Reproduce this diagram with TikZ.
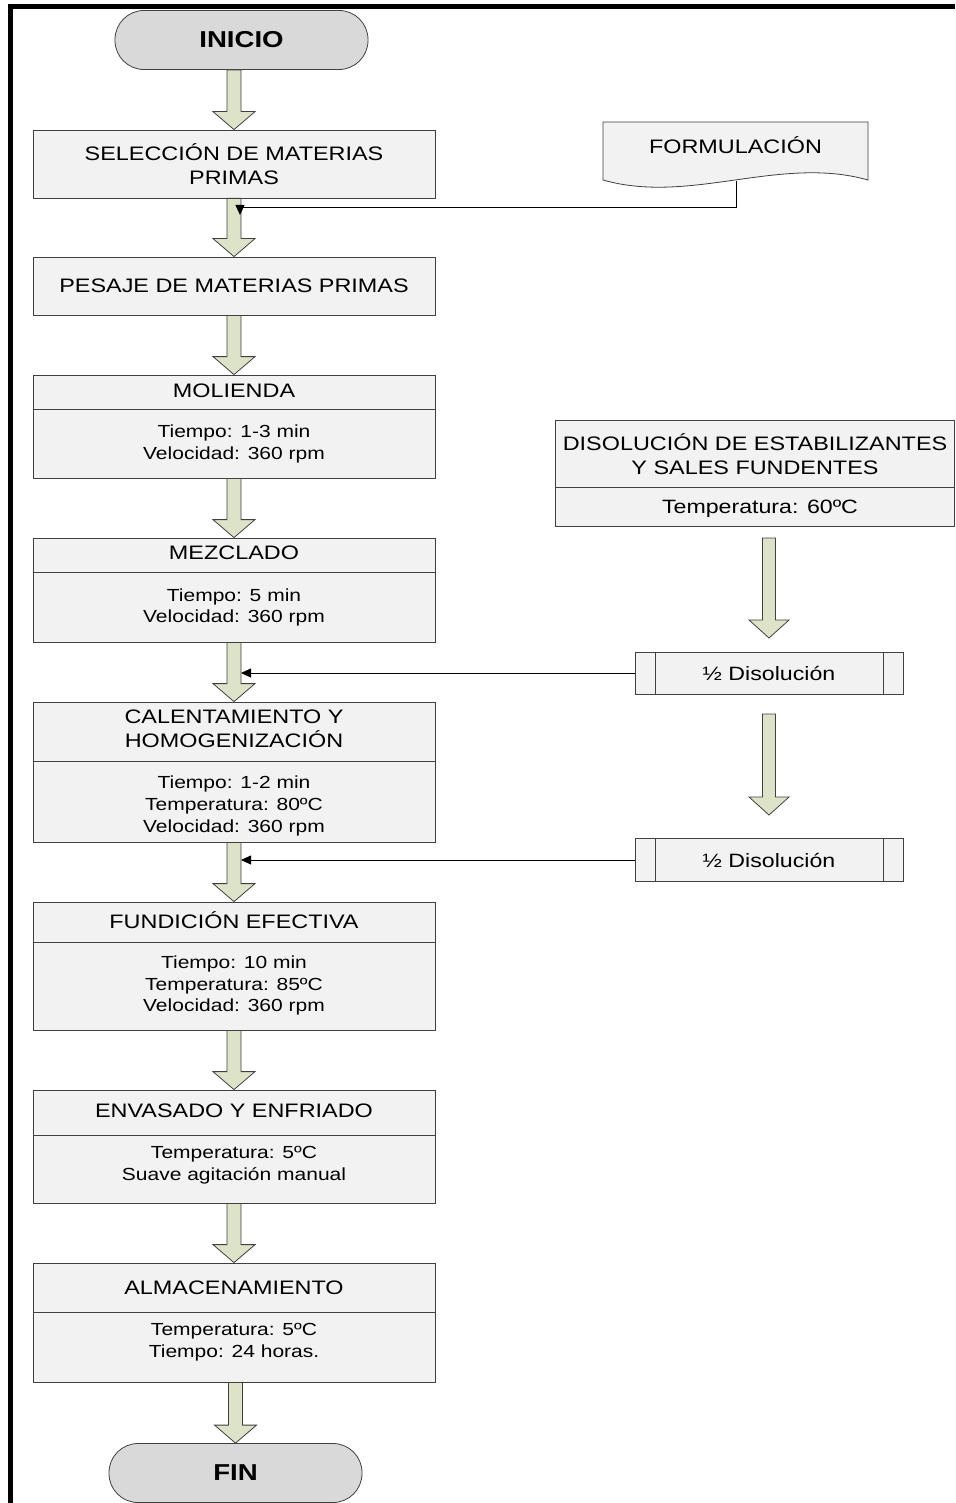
\documentclass[tikz,border=0pt]{standalone}
\usepackage{fontspec}
\setmainfont{Liberation Sans}[FakeStretch=1.2]
\usetikzlibrary{calc,arrows.meta}
\definecolor{boxfill}{RGB}{242,242,242}
\definecolor{termfill}{RGB}{217,217,217}
\definecolor{arrfill}{RGB}{221,227,201}
\definecolor{edgec}{RGB}{64,64,64}
\tikzset{
  procbox/.style={draw=edgec, fill=boxfill, line width=0.8pt, inner sep=0pt},
  term/.style={draw=edgec, fill=termfill, line width=0.8pt, rounded corners=29pt,
    minimum width=253pt, minimum height=59pt, inner sep=0pt,
    font=\fontsize{23}{27}\selectfont\bfseries},
  ttl/.style={font=\fontsize{19.5}{23.5}\selectfont, align=center, inner sep=0pt},
  bdy/.style={font=\fontsize{17.5}{21.8}\selectfont, align=center, inner sep=0pt},
  bdyr/.style={font=\fontsize{19.3}{23}\selectfont, align=center, inner sep=0pt},
  blk/.style={draw=edgec, fill=arrfill, line width=0.8pt, line join=miter},
  conn/.style={draw=black, line width=0.8pt, -{Triangle[length=10pt,width=9pt]}},
  divl/.style={draw=edgec, line width=0.8pt},
  frameline/.style={draw=black, line width=4.5pt, line join=miter},
}
% block arrow: #1 from node anchor, #2 to node anchor, #3 half shaft, #4 half head
\newcommand\blockarr[4]{%
  \draw[blk] let \p1=(#1), \p2=(#2) in
    (\x2-#3,\y1) -- (\x2-#3,\y2+18pt) -- (\x2-#4,\y2+18pt) -- (\x2,\y2)
    -- (\x2+#4,\y2+18pt) -- (\x2+#3,\y2+18pt) -- (\x2+#3,\y1) -- cycle;}
\begin{document}
\begin{tikzpicture}[x=1pt,y=-1pt]
\useasboundingbox (0,0) rectangle (955,1503);
\fill[white] (0,0) rectangle (955,1503);
% frame
\draw[frameline] (10.3,1503) -- (10.3,6.5) -- (955,6.5);

% terminals
\node[term] (inicio) at (241.5,40) {INICIO};
\node[term] (fin) at (235.5,1473) {FIN};

% left column boxes
\node[procbox, minimum width=402pt, minimum height=68pt] (sel) at (234,164) {};
\node[ttl] (selt) at (234,164) {SELECCIÓN DE MATERIAS\\PRIMAS};

\node[procbox, minimum width=402pt, minimum height=58pt] (pes) at (234,286) {};
\node[ttl] (pest) at (234,286) {PESAJE DE MATERIAS PRIMAS};

\node[procbox, minimum width=402pt, minimum height=103pt] (mol) at (234,426.5) {};
\node[ttl] (molt) at (234,391) {MOLIENDA};
\node[bdy] (molb) at (234,444) {Tiempo: 1-3 min\\Velocidad: 360 rpm};
\draw[divl] (mol.west |- 0,409) -- (mol.east |- 0,409);

\node[procbox, minimum width=402pt, minimum height=104pt] (mez) at (234,590) {};
\node[ttl] (mezt) at (234,553) {MEZCLADO};
\node[bdy] (mezb) at (234,607.5) {Tiempo: 5 min\\Velocidad: 360 rpm};
\draw[divl] (mez.west |- 0,572) -- (mez.east |- 0,572);

\node[procbox, minimum width=402pt, minimum height=140pt] (cal) at (234,772) {};
\node[ttl] (calt) at (234,729) {CALENTAMIENTO Y\\HOMOGENIZACIÓN};
\node[bdy] (calb) at (234,806) {Tiempo: 1-2 min\\Temperatura: 80ºC\\Velocidad: 360 rpm};
\draw[divl] (cal.west |- 0,761) -- (cal.east |- 0,761);

\node[procbox, minimum width=402pt, minimum height=128pt] (fun) at (234,966) {};
\node[ttl] (funt) at (234,920) {FUNDICIÓN EFECTIVA};
\node[bdy] (funb) at (234,985.5) {Tiempo: 10 min\\Temperatura: 85ºC\\Velocidad: 360 rpm};
\draw[divl] (fun.west |- 0,942) -- (fun.east |- 0,942);

\node[procbox, minimum width=402pt, minimum height=113pt] (env) at (234,1146.5) {};
\node[ttl] (envt) at (234,1111) {ENVASADO Y ENFRIADO};
\node[bdy] (envb) at (234,1165.5) {Temperatura: 5ºC\\Suave agitación manual};
\draw[divl] (env.west |- 0,1135) -- (env.east |- 0,1135);

\node[procbox, minimum width=402pt, minimum height=119pt] (alm) at (234,1322.5) {};
\node[ttl] (almt) at (234,1288) {ALMACENAMIENTO};
\node[bdy] (almb) at (234,1342) {Temperatura: 5ºC\\Tiempo: 24 horas.};
\draw[divl] (alm.west |- 0,1312) -- (alm.east |- 0,1312);

% right column
\draw[procbox] (603,122) -- (868,122) -- (868,180)
  .. controls (780,155) and (690,205) .. (603,180) -- cycle;
\node[ttl] (form) at (735.5,145) {FORMULACIÓN};
\coordinate (formbot) at (736,181);

\node[procbox, minimum width=399pt, minimum height=106pt] (dis) at (754.5,473) {};
\node[ttl] (dist) at (755,454) {DISOLUCIÓN DE ESTABILIZANTES\\Y SALES FUNDENTES};
\node[bdyr] (disb) at (760,509) {Temperatura: 60ºC};
\draw[divl] (dis.west |- 0,487) -- (dis.east |- 0,487);

\node[procbox, minimum width=268pt, minimum height=42pt] (h1) at (769,673) {};
\node[bdyr] (h1t) at (769,673) {½ Disolución};
\draw[divl] ($(h1.north west)+(21,0)$) -- ($(h1.south west)+(21,0)$);
\draw[divl] ($(h1.north east)+(-20,0)$) -- ($(h1.south east)+(-20,0)$);

\node[procbox, minimum width=268pt, minimum height=43pt] (h2) at (769,860) {};
\node[bdyr] (h2t) at (769,860) {½ Disolución};
\draw[divl] ($(h2.north west)+(21,0)$) -- ($(h2.south west)+(21,0)$);
\draw[divl] ($(h2.north east)+(-20,0)$) -- ($(h2.south east)+(-20,0)$);

% block arrows
\blockarr{inicio.south}{sel.north}{7pt}{21pt}
\blockarr{sel.south}{pes.north}{7pt}{21pt}
\blockarr{pes.south}{mol.north}{7pt}{21pt}
\blockarr{mol.south}{mez.north}{7pt}{21pt}
\blockarr{mez.south}{cal.north}{7pt}{21pt}
\blockarr{cal.south}{fun.north}{7pt}{21pt}
\blockarr{fun.south}{env.north}{7pt}{21pt}
\blockarr{env.south}{alm.north}{7pt}{21pt}
\blockarr{alm.south}{fin.north}{7pt}{21pt}

\coordinate (r1top) at (769,538);
\coordinate (r1tip) at (769,638);
\coordinate (r2top) at (769,714);
\coordinate (r2tip) at (769,815);
\blockarr{r1top}{r1tip}{6.5pt}{20pt}
\blockarr{r2top}{r2tip}{6.5pt}{20pt}

% connectors
\coordinate (j1) at (241,673);
\coordinate (j2) at (241,860);
\coordinate (j0) at (240,215);
\draw[conn] (formbot) -- (736,207) -- (240,207) -- (j0);
\draw[conn] (h1.west) -- (j1);
\draw[conn] (h2.west) -- (j2);
\end{tikzpicture}
\end{document}
